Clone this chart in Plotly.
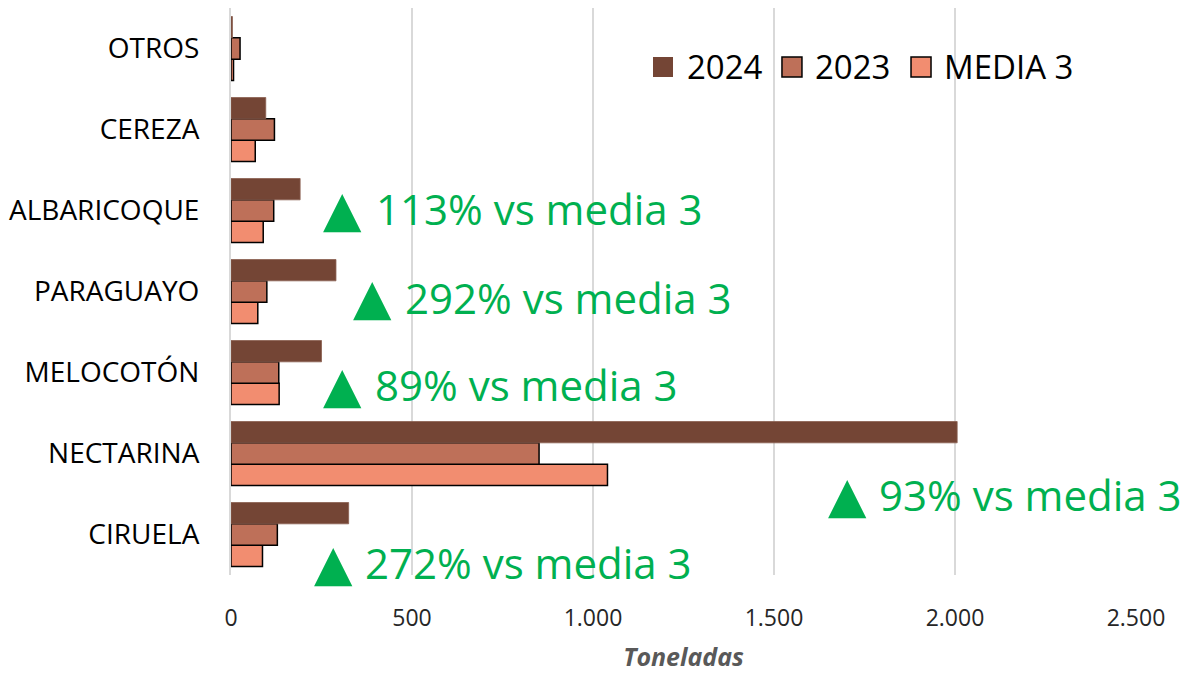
import plotly.graph_objects as go

# ---- data ----
categories = ["CIRUELA", "NECTARINA", "MELOCOTÓN", "PARAGUAYO", "ALBARICOQUE", "CEREZA", "OTROS"]
v2024 = [325, 2006, 250, 290, 191, 96, 4]
v2023 = [128, 851, 132, 99, 118, 120, 25]
media3 = [87, 1040, 133, 74, 89, 67, 7]
series_names = ["2024", "2023", "MEDIA 3"]
pct_labels = ["272%", "93%", "89%", "292%", "113%", None, None]
x_ticks = [0, 500, 1000, 1500, 2000, 2500]

# ---- styles / positions ----
col_2024 = "#744535"
col_2023 = "#BE7059"
col_media = "#F28D70"
green = "#00B050"
# annotation placement (triangle x, text x, y in category units)
ann_pos = {
    0: (284, 366, -0.35),
    1: (1702, 1784, 0.49),
    2: (307, 391, 1.85),
    3: (390, 474, 2.93),
    4: (307, 394, 4.02),
}

fig = go.Figure()
fig.add_trace(go.Bar(y=categories, x=media3, name=series_names[2], orientation="h",
                     marker=dict(color=col_media, line=dict(color="#000000", width=1.5))))
fig.add_trace(go.Bar(y=categories, x=v2023, name=series_names[1], orientation="h",
                     marker=dict(color=col_2023, line=dict(color="#000000", width=1.5))))
fig.add_trace(go.Bar(y=categories, x=v2024, name=series_names[0], orientation="h",
                     marker=dict(color=col_2024, line=dict(color="#8a5f50", width=0.8))))

annotations = []
for i, lab in enumerate(pct_labels):
    if lab is None:
        continue
    tx, xx, yy = ann_pos[i]
    annotations.append(dict(x=tx, y=yy, xref="x", yref="y", text="▲", showarrow=False,
                            xanchor="center", yanchor="middle",
                            font=dict(family="DejaVu Sans", size=50, color=green)))
    annotations.append(dict(x=xx, y=yy, xref="x", yref="y", text=f"{lab} vs media 3",
                            showarrow=False, xanchor="left", yanchor="middle",
                            font=dict(family="Open Sans", size=42, color=green)))

# custom legend
shapes = []
leg_items = [(series_names[0], col_2024, None, 0.4663, 0.5017),
             (series_names[1], col_2023, "#000000", 0.6088, 0.6431),
             (series_names[2], col_media, "#000000", 0.7514, 0.7856)]
for name, c, lc, sx, tx in leg_items:
    shapes.append(dict(type="rect", xref="paper", yref="paper", x0=sx, x1=sx + 0.0221,
                       y0=0.8783, y1=0.9136, fillcolor=c,
                       line=dict(color=lc if lc else c, width=1.5 if lc else 0)))
    annotations.append(dict(x=tx, y=0.896, xref="paper", yref="paper", text=name,
                            showarrow=False, xanchor="left", yanchor="middle",
                            font=dict(family="Open Sans", size=33, color="#000000")))

fig.update_layout(
    width=1183, height=673,
    margin=dict(l=231, r=47, t=8, b=98, autoexpand=False),
    paper_bgcolor="white", plot_bgcolor="white",
    barmode="group", bargap=0.21, bargroupgap=0,
    showlegend=False,
    separators=",.",
    annotations=annotations,
    shapes=shapes,
    font=dict(family="Open Sans", color="#000000"),
)
fig.update_xaxes(range=[0, 2500], tickvals=x_ticks, tickformat=",.0f", automargin=False,
                 showgrid=True, gridcolor="#d9d9d9", gridwidth=1.5,
                 zeroline=False, showline=False,
                 tickfont=dict(family="Open Sans", size=23, color="#262626"),
                 ticklabelstandoff=27,
                 title=dict(text="<b><i>Toneladas</i></b>", standoff=22,
                            font=dict(family="Open Sans", size=25, color="#595959")))
fig.update_yaxes(range=[-0.5, 6.5], showgrid=False, showline=True, linecolor="#d9d9d9",
                 linewidth=2, automargin=False,
                 tickfont=dict(family="Open Sans", size=28, color="#000000"),
                 ticklabelstandoff=24)

fig.write_html("out.html", config={"displayModeBar": False},
               post_script="document.body.style.margin='0';document.body.style.overflow='hidden';")
